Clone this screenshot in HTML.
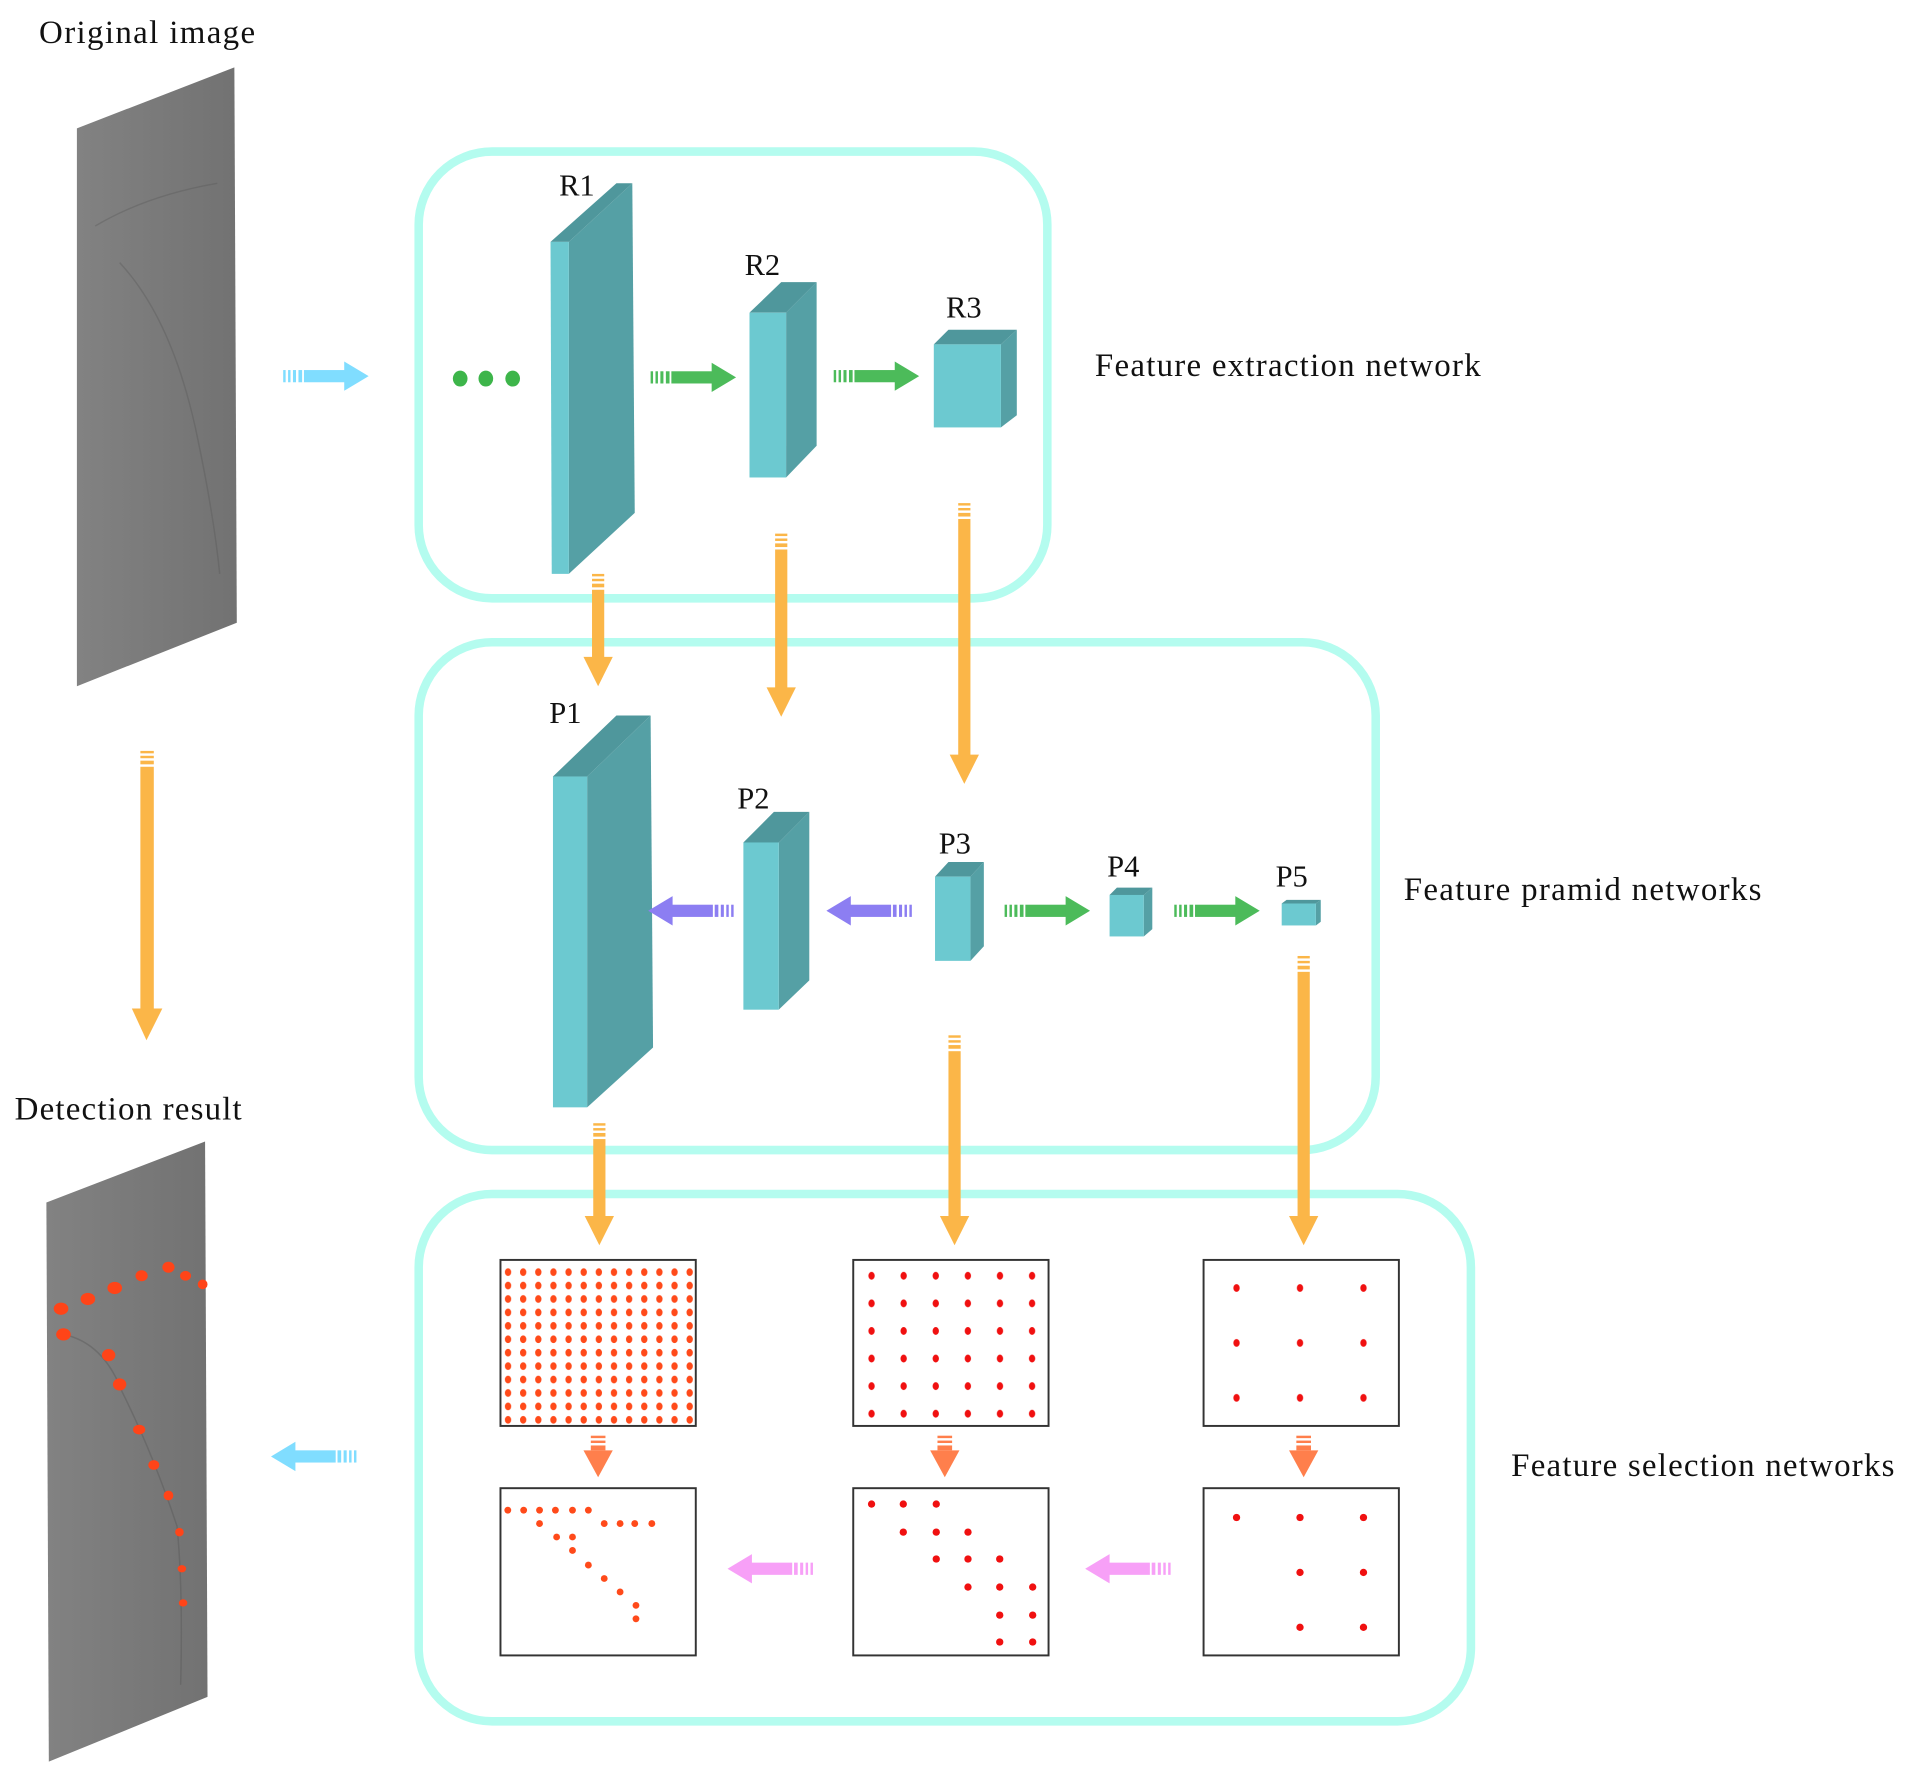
<!DOCTYPE html>
<html><head><meta charset="utf-8"><style>
html,body{margin:0;padding:0;background:#fff;}
svg{display:block;}
text{font-family:"Liberation Serif",serif;fill:#111;}
</style></head><body>
<svg width="1914" height="1785" viewBox="0 0 1568 1462" xmlns="http://www.w3.org/2000/svg">
<defs>
  <g id="ar">
    <rect x="0" y="-5" width="2" height="10"/><rect x="4" y="-5" width="2" height="10"/><rect x="8" y="-5" width="2.5" height="10"/><rect x="12.5" y="-5" width="3" height="10"/>
    <rect x="17" y="-5" width="34" height="10"/>
    <polygon points="50,-12 70,0 50,12"/>
  </g>
  <g id="sd">
    <rect x="-6" y="0" width="12" height="2"/><rect x="-6" y="4" width="12" height="2"/><rect x="-6" y="8" width="12" height="4"/>
    <polygon points="-12,12 12,12 0,34"/>
  </g>
  <linearGradient id="gimg" x1="0" y1="0" x2="1" y2="0">
    <stop offset="0" stop-color="#828282"/><stop offset="1" stop-color="#727272"/>
  </linearGradient>
  <pattern id="p1" patternUnits="userSpaceOnUse" x="410" y="1036.5" width="12.4" height="11">
    <ellipse cx="6.2" cy="5.5" rx="2.6" ry="3.2" fill="#FF4A1A"/>
  </pattern>
  <pattern id="p2" patternUnits="userSpaceOnUse" x="700.85" y="1033.7" width="26.3" height="22.6">
    <ellipse cx="13.15" cy="11.3" rx="2.6" ry="3.2" fill="#F01010"/>
  </pattern>
  <pattern id="p3" patternUnits="userSpaceOnUse" x="987" y="1032.5" width="52" height="45">
    <ellipse cx="26" cy="22.5" rx="2.6" ry="3.2" fill="#F01010"/>
  </pattern>
</defs>

<!-- labels -->
<text x="32" y="35" font-size="27" textLength="177" lengthAdjust="spacing">Original image</text>
<text x="12" y="917" font-size="27" textLength="186" lengthAdjust="spacing">Detection result</text>
<text x="897" y="308" font-size="27" textLength="316" lengthAdjust="spacing">Feature extraction network</text>
<text x="1150" y="737" font-size="27" textLength="293" lengthAdjust="spacing">Feature pramid networks</text>
<text x="1238" y="1209" font-size="27" textLength="314" lengthAdjust="spacing">Feature selection networks</text>

<!-- images -->
<polygon points="63,105 192,55 194,510 63,562" fill="url(#gimg)"/>
<path d="M78,185 Q120,160 178,150 M98,215 Q140,260 160,350 Q175,420 180,470" stroke="#555" stroke-width="1.2" fill="none" opacity="0.35"/>
<polygon points="38,985 168,935 170,1390 40,1443" fill="url(#gimg)"/>
<path d="M52,1093 Q85,1100 100,1140 Q125,1190 145,1250 Q150,1300 148,1380" stroke="#555" stroke-width="1.2" fill="none" opacity="0.4"/>
<g fill="#FF4418">
<ellipse cx="50" cy="1072" rx="6" ry="5"/><ellipse cx="72" cy="1064" rx="6" ry="5"/><ellipse cx="94" cy="1055" rx="6" ry="5"/>
<ellipse cx="116" cy="1045" rx="5" ry="4.5"/><ellipse cx="138" cy="1038" rx="5" ry="4.5"/><ellipse cx="152" cy="1045" rx="4.5" ry="4"/><ellipse cx="166" cy="1052" rx="4" ry="4"/>
<ellipse cx="52" cy="1093" rx="6" ry="5"/><ellipse cx="89" cy="1110" rx="5.5" ry="5"/><ellipse cx="98" cy="1134" rx="5.5" ry="5"/>
<ellipse cx="114" cy="1171" rx="5" ry="4"/><ellipse cx="126" cy="1200" rx="4.5" ry="4"/><ellipse cx="138" cy="1225" rx="4" ry="4"/>
<ellipse cx="147" cy="1255" rx="3.5" ry="3.5"/><ellipse cx="149" cy="1285" rx="3.5" ry="3"/><ellipse cx="150" cy="1313" rx="3.5" ry="3"/>
</g>

<!-- group boxes -->
<g fill="none" stroke="#B4FCEF" stroke-width="7">
<rect x="343" y="124" width="515" height="366" rx="60"/>
<rect x="343" y="526" width="784" height="416" rx="60"/>
<rect x="343" y="978" width="862" height="432" rx="60"/>
</g>

<!-- blocks -->
<g>
<polygon points="466,198 518,150 520,420 466,470" fill="#55A0A5"/>
<polygon points="451,198 505,150 518,150 466,198" fill="#4F979C"/>
<polygon points="451,198 466,198 466,470 452,470" fill="#6CC9D0"/>

<polygon points="644,256 669,231 669,365 644,391" fill="#55A0A5"/>
<polygon points="614,256 640,231 669,231 644,256" fill="#4F979C"/>
<rect x="614" y="256" width="30" height="135" fill="#6CC9D0"/>

<polygon points="820,282 833,270 833,340 820,350" fill="#55A0A5"/>
<polygon points="765,282 777,270 833,270 820,282" fill="#4F979C"/>
<rect x="765" y="282" width="55" height="68" fill="#6CC9D0"/>

<polygon points="481,636 533,586 535,858 481,907" fill="#55A0A5"/>
<polygon points="453,636 505,586 533,586 481,636" fill="#4F979C"/>
<rect x="453" y="636" width="28" height="271" fill="#6CC9D0"/>

<polygon points="638,690 663,665 663,803 638,827" fill="#55A0A5"/>
<polygon points="609,690 634,665 663,665 638,690" fill="#4F979C"/>
<rect x="609" y="690" width="29" height="137" fill="#6CC9D0"/>

<polygon points="795,718 806,706 806,775 795,787" fill="#55A0A5"/>
<polygon points="766,718 777,706 806,706 795,718" fill="#4F979C"/>
<rect x="766" y="718" width="29" height="69" fill="#6CC9D0"/>

<polygon points="937,733 944,727 944,761 937,767" fill="#55A0A5"/>
<polygon points="909,733 915,727 944,727 937,733" fill="#4F979C"/>
<rect x="909" y="733" width="28" height="34" fill="#6CC9D0"/>

<polygon points="1078,740 1082,737 1082,755 1078,758" fill="#55A0A5"/>
<polygon points="1050,740 1054,737 1082,737 1078,740" fill="#4F979C"/>
<rect x="1050" y="740" width="28" height="18" fill="#6CC9D0"/>
</g>
<g font-size="25">
<text x="458" y="160">R1</text><text x="610" y="225">R2</text><text x="775" y="260">R3</text>
<text x="450" y="592">P1</text><text x="604" y="662">P2</text><text x="769" y="699">P3</text>
<text x="907" y="718">P4</text><text x="1045" y="726">P5</text>
</g>

<!-- dots -->
<g fill="#3DB54A"><ellipse cx="377" cy="310" rx="6" ry="6.5"/><ellipse cx="398" cy="310" rx="6" ry="6.5"/><ellipse cx="420" cy="310" rx="6" ry="6.5"/></g>

<!-- horizontal arrows -->
<use href="#ar" transform="translate(232,308)" fill="#80DDFF"/>
<use href="#ar" transform="translate(533,309)" fill="#4CBB5A"/>
<use href="#ar" transform="translate(683,308)" fill="#4CBB5A"/>
<use href="#ar" transform="translate(823,746)" fill="#4CBB5A"/>
<use href="#ar" transform="translate(962,746)" fill="#4CBB5A"/>
<use href="#ar" transform="translate(292,1193) scale(-1,1)" fill="#80DDFF"/>
<use href="#ar" transform="translate(601,746) scale(-1,1)" fill="#8C7EF2"/>
<use href="#ar" transform="translate(747,746) scale(-1,1)" fill="#8C7EF2"/>
<use href="#ar" transform="translate(666,1285) scale(-1,1)" fill="#F7A0F7"/>
<use href="#ar" transform="translate(959,1285) scale(-1,1)" fill="#F7A0F7"/>

<!-- vertical orange arrows -->
<g fill="#FBB648">
<rect x="485" y="470" width="10" height="2"/><rect x="485" y="474" width="10" height="2"/><rect x="485" y="478" width="10" height="3"/><rect x="485" y="483" width="10" height="57"/><polygon points="478,538 502,538 490,562"/>
<rect x="635" y="437" width="10" height="2"/><rect x="635" y="441" width="10" height="2"/><rect x="635" y="445" width="10" height="3"/><rect x="635" y="450" width="10" height="115"/><polygon points="628,563 652,563 640,587"/>
<rect x="785" y="412" width="10" height="2"/><rect x="785" y="416" width="10" height="2"/><rect x="785" y="420" width="10" height="3"/><rect x="785" y="425" width="10" height="195"/><polygon points="778,618 802,618 790,642"/>
<rect x="115" y="615" width="11" height="2"/><rect x="115" y="619" width="11" height="2"/><rect x="115" y="623" width="11" height="3"/><rect x="115" y="628" width="11" height="200"/><polygon points="108,826 133,826 120,852"/>
<rect x="486" y="920" width="10" height="2"/><rect x="486" y="924" width="10" height="2"/><rect x="486" y="928" width="10" height="3"/><rect x="486" y="933" width="10" height="65"/><polygon points="479,996 503,996 491,1020"/>
<rect x="777" y="848" width="10" height="2"/><rect x="777" y="852" width="10" height="2"/><rect x="777" y="856" width="10" height="3"/><rect x="777" y="861" width="10" height="137"/><polygon points="770,996 794,996 782,1020"/>
<rect x="1063" y="783" width="10" height="2"/><rect x="1063" y="787" width="10" height="2"/><rect x="1063" y="791" width="10" height="3"/><rect x="1063" y="796" width="10" height="202"/><polygon points="1056,996 1080,996 1068,1020"/>
</g>
<use href="#sd" transform="translate(490,1176)" fill="#FF7F4C"/>
<use href="#sd" transform="translate(774,1176)" fill="#FF7F4C"/>
<use href="#sd" transform="translate(1068,1176)" fill="#FF7F4C"/>

<!-- grids -->
<g fill="#fff" stroke="#333" stroke-width="1.6">
<rect x="410" y="1032" width="160" height="136"/>
<rect x="699" y="1032" width="160" height="136"/>
<rect x="986" y="1032" width="160" height="136"/>
<rect x="410" y="1219" width="160" height="137"/>
<rect x="699" y="1219" width="160" height="137"/>
<rect x="986" y="1219" width="160" height="137"/>
</g>
<rect x="410" y="1036.5" width="161" height="132" fill="url(#p1)"/>
<rect x="700.85" y="1033.7" width="157.8" height="135.6" fill="url(#p2)"/>
<rect x="987" y="1032.5" width="156" height="135" fill="url(#p3)"/>

<g fill="#FF4A1A">
<circle cx="416" cy="1237" r="2.8"/><circle cx="429" cy="1237" r="2.8"/><circle cx="442" cy="1237" r="2.8"/><circle cx="455" cy="1237" r="2.8"/><circle cx="469" cy="1237" r="2.8"/><circle cx="482" cy="1237" r="2.8"/>
<circle cx="442" cy="1248" r="2.8"/><circle cx="495" cy="1248" r="2.8"/><circle cx="508" cy="1248" r="2.8"/><circle cx="520" cy="1248" r="2.8"/><circle cx="534" cy="1248" r="2.8"/>
<circle cx="456" cy="1259" r="2.8"/><circle cx="469" cy="1259" r="2.8"/><circle cx="469" cy="1270" r="2.8"/><circle cx="482" cy="1282" r="2.8"/>
<circle cx="495" cy="1293" r="2.8"/><circle cx="508" cy="1304" r="2.8"/><circle cx="521" cy="1315" r="2.8"/><circle cx="521" cy="1326" r="2.8"/>
</g>
<g fill="#F01010">
<circle cx="714" cy="1232" r="3"/><circle cx="740" cy="1232" r="3"/><circle cx="767" cy="1232" r="3"/>
<circle cx="740" cy="1255" r="3"/><circle cx="767" cy="1255" r="3"/><circle cx="793" cy="1255" r="3"/>
<circle cx="767" cy="1277" r="3"/><circle cx="793" cy="1277" r="3"/><circle cx="819" cy="1277" r="3"/>
<circle cx="793" cy="1300" r="3"/><circle cx="819" cy="1300" r="3"/><circle cx="846" cy="1300" r="3"/>
<circle cx="819" cy="1323" r="3"/><circle cx="846" cy="1323" r="3"/>
<circle cx="819" cy="1345" r="3"/><circle cx="846" cy="1345" r="3"/>
<circle cx="1013" cy="1243" r="3"/><circle cx="1065" cy="1243" r="3"/><circle cx="1117" cy="1243" r="3"/>
<circle cx="1065" cy="1288" r="3"/><circle cx="1117" cy="1288" r="3"/>
<circle cx="1065" cy="1333" r="3"/><circle cx="1117" cy="1333" r="3"/>
</g>
</svg>
</body></html>
